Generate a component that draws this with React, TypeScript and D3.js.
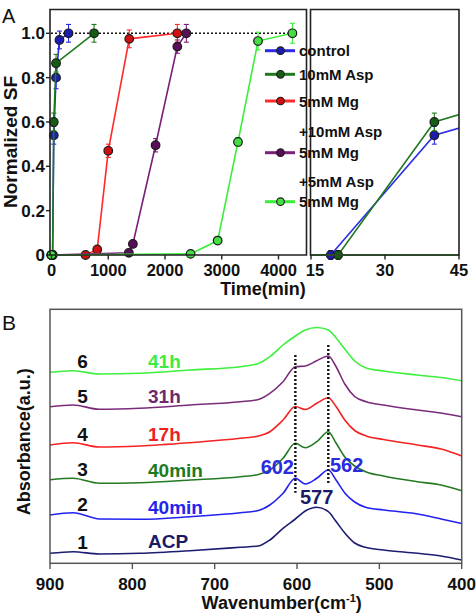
import React from "react";
import * as d3 from "d3";

// ---------- Panel A data ----------
const CTRL_T = [0, 19, 40, 80, 140, 300];
const CTRL_V = [0, 0, 0.54, 0.8, 0.97, 1.0];
const CTRL_E = [0, 0.02, 0.04, 0.05, 0.04, 0.04];

const ASP10_T = [0, 20.5, 40, 80, 750];
const ASP10_V = [0, 0, 0.6, 0.865, 1.0];
const ASP10_E = [0, 0.02, 0.04, 0.04, 0.04];

const MG_ASP10_T = [0, 600, 806, 1000, 1370, 2217];
const MG_ASP10_V = [0, 0, 0.025, 0.47, 0.975, 1.0];
const MG_ASP10_E = [0, 0.01, 0.01, 0.03, 0.04, 0.04];

const MG_ASP5_T = [0, 1363, 1434, 1834, 2217, 2376];
const MG_ASP5_V = [0, 0.01, 0.05, 0.495, 0.94, 1.0];
const MG_ASP5_E = [0, 0.01, 0.01, 0.03, 0.03, 0.04];

const MG_T = [0, 2451, 2928, 3286, 3639, 4245];
const MG_V = [0, 0.005, 0.065, 0.51, 0.965, 1.0];
const MG_E = [0, 0.01, 0.01, 0.02, 0.04, 0.045];

const A_XTICKS = [0, 1000, 2000, 3000, 4000];
const A_YTICKS = [0, 0.2, 0.4, 0.6, 0.8, 1.0];
const A_YTICK_LABELS = ["0", "0.2", "0.4", "0.6", "0.8", "1.0"];
const R_XTICKS = [15, 30, 45];

const LEGEND_LABELS = ["control", "10mM Asp", "5mM Mg", "5mM Mg", "5mM Mg"];
const LEGEND_SUB = ["", "", "+10mM Asp", "+5mM Asp", ""];

// ---------- Panel B data ----------
const WN = [900, 872, 840, 791, 730, 669, 647, 633, 617, 602, 590, 576, 562, 553, 542, 530, 516, 495, 454, 425, 400];
const ABS_ACP = [0.1, 0.116, 0.093, 0.1, 0.126, 0.16, 0.173, 0.233, 0.35, 0.443, 0.523, 0.56, 0.516, 0.423, 0.303, 0.203, 0.158, 0.133, 0.1, 0.073, 0.033];
const ABS_40B = [0.483, 0.506, 0.443, 0.44, 0.466, 0.506, 0.528, 0.583, 0.7, 0.85, 0.793, 0.85, 0.933, 0.838, 0.703, 0.613, 0.558, 0.533, 0.493, 0.443, 0.398];
const ABS_40G = [0.836, 0.85, 0.8, 0.806, 0.833, 0.866, 0.888, 0.933, 1.05, 1.2, 1.155, 1.216, 1.316, 1.208, 1.063, 0.973, 0.913, 0.873, 0.816, 0.783, 0.726];
const ABS_17H = [1.183, 1.206, 1.163, 1.173, 1.206, 1.25, 1.273, 1.316, 1.433, 1.568, 1.538, 1.6, 1.656, 1.573, 1.433, 1.328, 1.273, 1.238, 1.183, 1.143, 1.073];
const ABS_31H = [1.566, 1.583, 1.54, 1.55, 1.583, 1.616, 1.638, 1.7, 1.816, 1.966, 1.973, 2.026, 2.073, 1.973, 1.793, 1.668, 1.616, 1.583, 1.533, 1.503, 1.466];
const ABS_41H = [1.91, 1.926, 1.893, 1.9, 1.933, 1.966, 1.998, 2.066, 2.183, 2.273, 2.333, 2.358, 2.333, 2.258, 2.143, 2.023, 1.953, 1.923, 1.883, 1.858, 1.826];

const SPEC_NUMBERS = ["1", "2", "3", "4", "5", "6"];
const SPEC_LABELS = ["ACP", "40min", "40min", "17h", "31h", "41h"];
const B_XTICKS = [900, 800, 700, 600, 500, 400];
const PEAK_LINES = [602, 562];

const FONT = "'Liberation Sans', Arial, Helvetica, sans-serif";

export default function App() {
  // Panel A scales
  const xA = d3.scaleLinear().domain([0, 4000]).range([51.5, 278.5]);
  const yA = d3.scaleLinear().domain([0, 1]).range([255, 33.3]);
  const xR = d3.scaleLinear().domain([15, 45]).range([311, 459]);

  const seriesA = [
    { t: CTRL_T, v: CTRL_V, e: CTRL_E, color: "#2b2be6", fill: "#1c1cb0" },
    { t: ASP10_T, v: ASP10_V, e: ASP10_E, color: "#1f7a1f", fill: "#135e13" },
    { t: MG_ASP10_T, v: MG_ASP10_V, e: MG_ASP10_E, color: "#ff2a2a", fill: "#d01010" },
    { t: MG_ASP5_T, v: MG_ASP5_V, e: MG_ASP5_E, color: "#7a1f7a", fill: "#5a0e5a" },
    { t: MG_T, v: MG_V, e: MG_E, color: "#3cee3c", fill: "#44dd44" },
  ];

  const renderSeries = (xs: d3.ScaleLinear<number, number>, key: string) =>
    seriesA.map((s, i) => {
      const pts = s.t.map((t, j) => [t, s.v[j], s.e[j]] as [number, number, number]);
      const line = d3
        .line<[number, number, number]>()
        .x((d) => xs(d[0]))
        .y((d) => yA(d[1]));
      return (
        <g key={key + i}>
          <path d={line(pts) || ""} fill="none" stroke={s.color} strokeWidth={1.6} />
          {pts.map((p, j) =>
            p[2] > 0 ? (
              <g key={"e" + j} stroke={s.color} strokeWidth={1.1}>
                <line x1={xs(p[0])} x2={xs(p[0])} y1={yA(p[1] - p[2])} y2={yA(p[1] + p[2])} />
                <line x1={xs(p[0]) - 2.5} x2={xs(p[0]) + 2.5} y1={yA(p[1] + p[2])} y2={yA(p[1] + p[2])} />
                <line x1={xs(p[0]) - 2.5} x2={xs(p[0]) + 2.5} y1={yA(p[1] - p[2])} y2={yA(p[1] - p[2])} />
              </g>
            ) : null
          )}
          {pts.map((p, j) => (
            <circle key={"c" + j} cx={xs(p[0])} cy={yA(p[1])} r={4.3} fill={s.fill} stroke="#1a1a1a" strokeWidth={1.2} />
          ))}
        </g>
      );
    });

  // Legend layout
  const legendRows = [50.7, 74.3, 101, 152.7, 201.7];
  const legendSubRows = [0, 0, 137.3, 186.7, 0];

  // Panel B scales
  const xB = d3.scaleLinear().domain([900, 400]).range([50, 461.7]);
  const yB = d3.scaleLinear().domain([0, 2.54]).range([563.3, 309.3]);
  const spectra = [
    { v: ABS_ACP, color: "#1c1c72", label: "#1a1a66" },
    { v: ABS_40B, color: "#2222f0", label: "#2424ee" },
    { v: ABS_40G, color: "#237a23", label: "#1e7a1e" },
    { v: ABS_17H, color: "#f52222", label: "#ee2020" },
    { v: ABS_31H, color: "#7b2b7b", label: "#6e2a6e" },
    { v: ABS_41H, color: "#3cf03c", label: "#40ec40" },
  ];
  const specLine = d3
    .line<[number, number]>()
    .x((d) => xB(d[0]))
    .y((d) => yB(d[1]))
    .curve(d3.curveMonotoneX);

  return (
    <svg
      width={476}
      height={616}
      style={{ position: "absolute", left: 0, top: 0, background: "#fff" }}
      fontFamily={FONT}
    >
      <defs>
        <clipPath id="clipR">
          <rect x={311} y={0} width={148} height={270} />
        </clipPath>
      </defs>
      <rect x={0} y={0} width={476} height={616} fill="#fff" />

      {/* ---------- Panel A ---------- */}
      <text x={2} y={23} fontSize={20} fill="#111">A</text>

      {/* dotted line at 1.0 */}
      <line x1={51} x2={292} y1={yA(1)} y2={yA(1)} stroke="#111" strokeWidth={1.4} strokeDasharray="2,2" />

      {renderSeries(xA, "L")}
      <g clipPath="url(#clipR)">{renderSeries(xR, "R")}</g>

      {/* frames */}
      <path d="M50,9.5 H306.5 V255 H50 Z" fill="none" stroke="#222" strokeWidth={1.6} />
      <path d="M310.5,9.5 H459 V255 H310.5 Z" fill="none" stroke="#222" strokeWidth={1.6} />

      {/* y ticks */}
      {A_YTICKS.map((t, i) => (
        <g key={"ya" + i}>
          <line x1={46} x2={50} y1={yA(t)} y2={yA(t)} stroke="#222" strokeWidth={1.4} />
          <text x={45} y={yA(t) + 6} fontSize={17} fontWeight="bold" textAnchor="end" fill="#111">
            {A_YTICK_LABELS[i]}
          </text>
        </g>
      ))}
      {/* x ticks left */}
      {A_XTICKS.map((t) => (
        <g key={"xa" + t}>
          <line x1={xA(t)} x2={xA(t)} y1={255} y2={259.5} stroke="#222" strokeWidth={1.4} />
          <text x={xA(t)} y={276} fontSize={16.5} fontWeight="bold" textAnchor="middle" fill="#111">
            {t}
          </text>
        </g>
      ))}
      {/* x ticks right */}
      {R_XTICKS.map((t, i) => (
        <g key={"xr" + t}>
          <line x1={xR(t)} x2={xR(t)} y1={255} y2={259.5} stroke="#222" strokeWidth={1.4} />
          <text x={xR(t) + (i === 0 ? 4 : 0)} y={276} fontSize={16.5} fontWeight="bold" textAnchor="middle" fill="#111">
            {t}
          </text>
        </g>
      ))}
      <text x={263} y={294.5} fontSize={18} fontWeight="bold" textAnchor="middle" fill="#111">
        Time(min)
      </text>
      <text
        transform="translate(17,142) rotate(-90)"
        fontSize={19}
        fontWeight="bold"
        textAnchor="middle"
        fill="#111"
      >
        Normalized SF
      </text>

      {/* legend */}
      {seriesA.map((s, i) => (
        <g key={"lg" + i}>
          <line x1={265} x2={295} y1={legendRows[i]} y2={legendRows[i]} stroke={s.color} strokeWidth={3} />
          <circle cx={280.5} cy={legendRows[i]} r={3.8} fill={s.fill} stroke="#1a1a1a" strokeWidth={1.1} />
          <text x={299} y={legendRows[i] + 5.5} fontSize={15} fontWeight="bold" fill="#111">
            {LEGEND_LABELS[i]}
          </text>
          {LEGEND_SUB[i] ? (
            <text x={299} y={legendSubRows[i]} fontSize={15} fontWeight="bold" fill="#111">
              {LEGEND_SUB[i]}
            </text>
          ) : null}
        </g>
      ))}

      {/* ---------- Panel B ---------- */}
      <text x={2} y={330} fontSize={21} fill="#111">B</text>

      {spectra.map((s, i) => (
        <path
          key={"sp" + i}
          d={specLine(WN.map((w, j) => [w, s.v[j]] as [number, number])) || ""}
          fill="none"
          stroke={s.color}
          strokeWidth={1.6}
        />
      ))}

      {/* dotted peak markers */}
      <line x1={xB(PEAK_LINES[0])} x2={xB(PEAK_LINES[0])} y1={355} y2={492.7} stroke="#111" strokeWidth={2.4} strokeDasharray="2,2" />
      <line x1={xB(PEAK_LINES[1])} x2={xB(PEAK_LINES[1])} y1={345} y2={483.3} stroke="#111" strokeWidth={2.4} strokeDasharray="2,2" />

      <text x={294} y={474.3} fontSize={20} fontWeight="bold" textAnchor="end" fill="#2a2ae0">
        {PEAK_LINES[0]}
      </text>
      <text x={330} y={471.7} fontSize={20} fontWeight="bold" fill="#2a2ae0">
        {PEAK_LINES[1]}
      </text>
      <text x={300} y={504} fontSize={20} fontWeight="bold" fill="#1a1a66">
        577
      </text>

      {/* spectrum labels */}
      {spectra.map((s, i) => (
        <g key={"sl" + i}>
          <text x={82.5} y={yB(s.v[0]) - 4} fontSize={19} fontWeight="bold" textAnchor="middle" fill="#111">
            {SPEC_NUMBERS[i]}
          </text>
          <text x={148} y={yB(s.v[3]) - 5.5} fontSize={19} fontWeight="bold" fill={s.label}>
            {SPEC_LABELS[i]}
          </text>
        </g>
      ))}

      <rect x={50} y={309.3} width={411.7} height={254} fill="none" stroke="#555" strokeWidth={1.5} />
      {B_XTICKS.map((t) => (
        <g key={"xb" + t}>
          <line x1={xB(t)} x2={xB(t)} y1={563.3} y2={569} stroke="#555" strokeWidth={1.4} />
          <text x={xB(t)} y={590} fontSize={17} fontWeight="bold" textAnchor="middle" fill="#111">
            {t}
          </text>
        </g>
      ))}
      <text x={281.7} y={609.3} fontSize={18} fontWeight="bold" textAnchor="middle" fill="#111">
        Wavenumber(cm
        <tspan fontSize={11} dy={-7}>-1</tspan>
        <tspan dy={7}>)</tspan>
      </text>
      <text
        transform="translate(29.5,441.7) rotate(-90)"
        fontSize={18}
        fontWeight="bold"
        textAnchor="middle"
        fill="#111"
      >
        Absorbance(a.u.)
      </text>
    </svg>
  );
}
